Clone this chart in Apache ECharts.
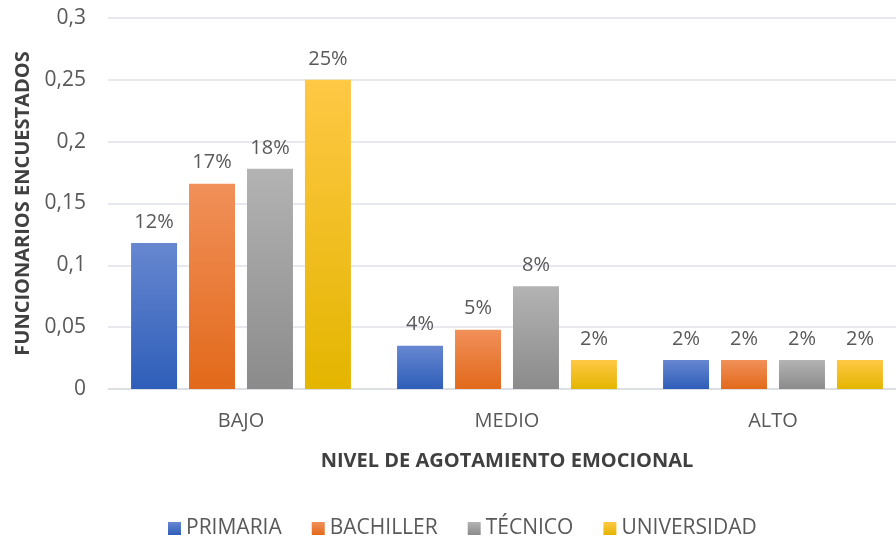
<!DOCTYPE html>
<html>
<head>
<meta charset="utf-8">
<script src="https://cdn.jsdelivr.net/npm/echarts@6/dist/echarts.min.js"></script>
<style>
  html, body { margin: 0; padding: 0; background: #fff; overflow: hidden; }
  #chart { width: 906px; height: 540px; }
</style>
</head>
<body>
<div id="chart"></div>
<script>
// datos
const categorias = ["BAJO", "MEDIO", "ALTO"];
const primaria = [0.118, 0.035, 0.0235];
const bachiller = [0.166, 0.048, 0.0235];
const tecnico = [0.178, 0.083, 0.0235];
const universidad = [0.25, 0.0235, 0.0235];
const nombres = ["PRIMARIA", "BACHILLER", "TÉCNICO", "UNIVERSIDAD"];
const etiquetas = [
  ["12%", "4%", "2%"],
  ["17%", "5%", "2%"],
  ["18%", "8%", "2%"],
  ["25%", "2%", "2%"]
];

const fuente = "'Open Sans', 'Noto Sans', sans-serif";
const colores = [
  ["#6787d0", "#2e5eb9"],
  ["#f1905a", "#e2691a"],
  ["#b3b3b3", "#8b8b8b"],
  ["#ffc845", "#e4b500"]
];

function degradado(c) {
  return new echarts.graphic.LinearGradient(0, 0, 0, 1, [
    { offset: 0, color: c[0] },
    { offset: 1, color: c[1] }
  ]);
}

let chartDom = document.getElementById("chart");
let myChart = echarts.init(chartDom);
let series = [primaria, bachiller, tecnico, universidad].map((d, i) => ({
  name: nombres[i],
  type: "bar",
  data: d,
  barWidth: 46,
  barGap: "26%",
  itemStyle: { color: degradado(colores[i]) },
  label: {
    show: true,
    position: "top",
    distance: 11,
    color: "#595959",
    fontSize: 20,
    fontFamily: fuente,
    formatter: p => etiquetas[i][p.dataIndex]
  }
}));

let option = {
  animation: false,
  color: colores.map(c => c[0]),
  grid: { left: 108, top: 18, right: 0, height: 371 },
  legend: {
    bottom: -4,
    left: 163,
    itemWidth: 13,
    itemHeight: 13,
    itemGap: 30,
    icon: "rect",
    textStyle: { color: "#595959", fontSize: 21, fontFamily: fuente },
    data: nombres
  },
  xAxis: {
    type: "category",
    data: categorias,
    name: "NIVEL DE AGOTAMIENTO EMOCIONAL",
    nameLocation: "middle",
    nameGap: 62,
    nameTextStyle: { color: "#404040", fontSize: 20, fontWeight: "bold", fontFamily: fuente },
    axisLine: { lineStyle: { color: "#d9dbe0", width: 1.5 } },
    axisTick: { show: false },
    axisLabel: { color: "#595959", fontSize: 20, margin: 22, fontFamily: fuente }
  },
  yAxis: {
    type: "value",
    min: 0,
    max: 0.3,
    interval: 0.05,
    name: "FUNCIONARIOS ENCUESTADOS",
    nameLocation: "middle",
    nameGap: 67,
    nameTextStyle: { color: "#404040", fontSize: 20, fontWeight: "bold", fontFamily: fuente },
    axisLine: { show: false },
    axisTick: { show: false },
    splitLine: { lineStyle: { color: "#dfe2e8", width: 1.5 } },
    axisLabel: {
      color: "#595959",
      fontSize: 21,
      margin: 22,
      fontFamily: fuente,
      formatter: v => (v === 0 ? "0" : String(Math.round(v * 100) / 100).replace(".", ","))
    }
  },
  series: series
};
option && myChart.setOption(option);
</script>
</body>
</html>
